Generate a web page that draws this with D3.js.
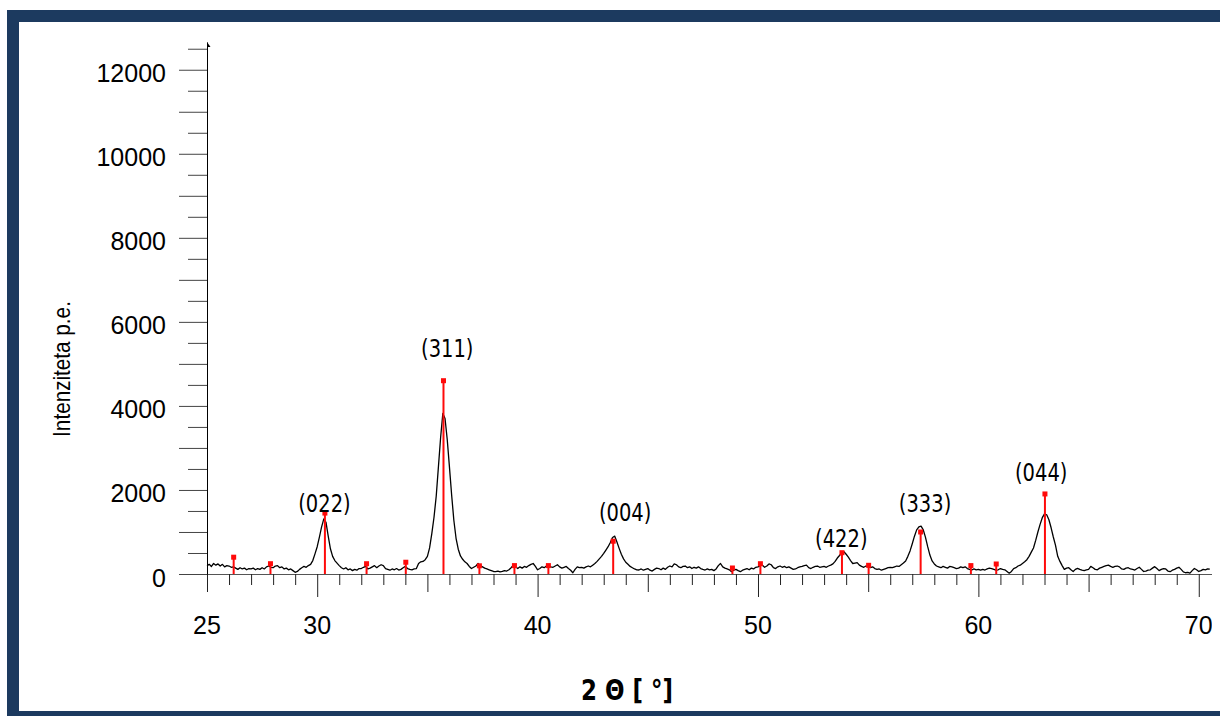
<!DOCTYPE html>
<html>
<head>
<meta charset="utf-8">
<script src="https://cdn.jsdelivr.net/npm/d3@7"></script>
<style>
  html, body { margin: 0; padding: 0; background: #fff; }
  svg { display: block; }
</style>
</head>
<body>
<svg id="chart" width="1220" height="716"></svg>
<script>
const scanStart = 25.0;
const scanStep = 0.1;
const counts = [
  200, 230, 180, 250, 210, 240, 190, 230, 170, 200,   // 25
  190, 160, 170, 140, 110, 150, 120, 140, 100, 130,   // 26
  120, 140, 100, 130, 110, 150, 120, 170, 190, 160,   // 27
  150, 190, 200, 150, 170, 120, 140, 100, 120, 80,    // 28
  40, 60, 110, 150, 180, 160, 200, 230, 320, 480,     // 29
  650, 880, 1120, 1310, 1230, 900, 600, 420, 320, 260, // 30
  200, 150, 120, 150, 100, 120, 80, 110, 90, 130,     // 31
  130, 160, 180, 120, 140, 170, 200, 150, 190, 220,   // 32
  200, 130, 110, 90, 120, 100, 130, 95, 110, 150,     // 33
  180, 130, 110, 100, 120, 130, 250, 290, 300, 340,   // 34
  420, 620, 960, 1350, 1850, 2550, 3250, 3820, 3700, 3200, // 35
  2550, 1880, 1280, 850, 590, 430, 350, 290, 250, 180, // 36
  130, 160, 190, 250, 200, 170, 140, 120, 100, 80,    // 37
  60, 55, 70, 50, 60, 80, 70, 100, 150, 210,          // 38
  170, 130, 170, 140, 180, 160, 200, 230, 250, 180,   // 39
  100, 130, 170, 150, 190, 200, 170, 160, 190, 220,   // 40
  170, 140, 160, 180, 130, 90, 30, 110, 170, 150,     // 41
  160, 140, 170, 190, 170, 210, 250, 300, 360, 420,   // 42
  490, 570, 650, 750, 870, 900, 760, 610, 470, 360,   // 43
  280, 230, 180, 150, 120, 100, 95, 120, 90, 110,     // 44
  130, 90, 70, 110, 140, 130, 100, 140, 110, 160,     // 45
  190, 170, 240, 220, 170, 150, 180, 190, 150, 170,   // 46
  130, 160, 140, 170, 130, 110, 95, 120, 100, 110,    // 47
  80, 120, 200, 250, 170, 140, 120, 100, 55, 90,      // 48
  110, 80, 55, 90, 110, 130, 100, 140, 120, 160,      // 49
  170, 200, 210, 160, 190, 240, 220, 150, 130, 170,   // 50
  190, 160, 180, 150, 170, 140, 110, 120, 150, 170,   // 51
  180, 200, 210, 150, 130, 160, 180, 190, 160, 170,   // 52
  180, 160, 190, 210, 240, 300, 380, 440, 510, 530,   // 53
  470, 400, 320, 250, 260, 270, 210, 180, 160, 190,   // 54
  170, 150, 170, 130, 110, 120, 90, 110, 130, 150,    // 55
  160, 150, 170, 190, 180, 220, 260, 310, 420, 550,   // 56
  720, 900, 1050, 1120, 1140, 1050, 870, 650, 450, 310, // 57
  240, 190, 170, 150, 180, 160, 140, 180, 170, 150,   // 58
  130, 140, 170, 150, 170, 130, 110, 95, 120, 100,    // 59
  110, 90, 110, 95, 120, 140, 130, 110, 90, 100,      // 60
  130, 110, 100, 60, 20, 60, 130, 150, 190, 210,      // 61
  250, 290, 340, 420, 520, 620, 800, 1000, 1180, 1340, // 62
  1430, 1410, 1290, 1100, 880, 680, 420, 300, 200, 110, // 63
  140, 150, 100, 60, 110, 135, 110, 90, 80, 100,      // 64
  110, 180, 150, 110, 100, 140, 160, 180, 200, 210,   // 65
  180, 160, 180, 190, 170, 120, 110, 140, 150, 120,   // 66
  110, 95, 130, 160, 110, 60, 70, 90, 100, 140,       // 67
  175, 130, 80, 110, 130, 120, 70, 55, 90, 110,       // 68
  140, 160, 110, 50, 30, 40, 20, 80, 130, 100,        // 69
  60, 80, 110, 100, 120, 115                          // 70
];

// reference pattern (red sticks)
const refAngles = [26.21, 27.88, 30.35, 32.24, 34.02, 35.73, 37.36, 38.95, 40.49,
                   43.43, 48.84, 50.11, 53.81, 55.02, 57.38, 59.66, 60.81, 63.02];
const refInts   = [400, 245, 1450, 245, 280, 4600, 195, 200, 200,
                   780, 143, 245, 507, 207, 1000, 200, 238, 1905];

// Miller index labels and where they sit (deg, counts)
const hklText  = ['(022)', '(311)', '(004)', '(422)', '(333)', '(044)'];
const hklAngle = [30.33, 35.90, 43.97, 53.78, 57.58, 62.85];
const hklCount = [1480, 5170, 1260, 640, 1480, 2210];

const xLabelTicks = [25, 30, 40, 50, 60, 70];
const yLabelTicks = [0, 2000, 4000, 6000, 8000, 10000, 12000];

const W = 1220, H = 716;
const navy = '#1c3a5f';
const red = '#ff0a0a';

const svg = d3.select('#chart');

// frame
svg.append('rect').attr('width', W).attr('height', H).attr('fill', '#fff');
svg.append('rect').attr('x', 7).attr('y', 10).attr('width', W - 7).attr('height', H - 10).attr('fill', navy);
svg.append('rect').attr('x', 19).attr('y', 22).attr('width', W - 19).attr('height', 711 - 22).attr('fill', '#fff');

svg.append('clipPath').attr('id', 'clip')
  .append('rect').attr('x', 19).attr('y', 22).attr('width', 1212 - 19).attr('height', 711 - 22);

const g = svg.append('g').attr('clip-path', 'url(#clip)');

const x = d3.scaleLinear().domain([25, 70.6]).range([207, 1212]);
const y = d3.scaleLinear().domain([0, 12660]).range([574, 42]);

const tickFont = '"Liberation Sans", Arial, sans-serif';
const condFont = '"DejaVu Sans", sans-serif';

// x axis
const xAxis = d3.axisBottom(x)
  .tickValues(d3.range(25, 71, 1))
  .tickSizeOuter(0)
  .tickFormat('');
const gx = g.append('g').attr('transform', `translate(0,${y(0)})`).call(xAxis);
gx.select('.domain').attr('stroke', '#555');
gx.selectAll('.tick line')
  .attr('stroke', '#222')
  .attr('y2', d => d % 10 === 0 ? 23 : d % 5 === 0 ? 18 : 11);

g.append('g').selectAll('text').data(xLabelTicks).join('text')
  .attr('x', d => x(d))
  .attr('y', 634)
  .attr('text-anchor', 'middle')
  .style('font-family', tickFont)
  .style('font-size', '25px')
  .text(d => d);

// y axis
const yAxis = d3.axisLeft(y)
  .tickValues(d3.range(0, 12501, 500))
  .tickSizeOuter(0)
  .tickFormat('');
const gy = g.append('g').attr('transform', `translate(${x(25)},0)`).call(yAxis);
gy.select('.domain').attr('stroke', '#000');
gy.selectAll('.tick line')
  .attr('stroke', '#444')
  .attr('x2', d => d % 1000 === 0 ? -28 : -19);

// little arrow on top of the y axis
g.append('path')
  .attr('d', `M${x(25)},${y(12660)}L${x(25) + 3.5},${y(12660) + 5}L${x(25)},${y(12660) + 5}Z`)
  .attr('fill', '#000');

g.append('g').selectAll('text').data(yLabelTicks).join('text')
  .attr('x', 166)
  .attr('y', d => y(d) + 12.5)
  .attr('text-anchor', 'end')
  .style('font-family', tickFont)
  .style('font-size', '25px')
  .text(d => d);

// axis titles
g.append('text')
  .attr('transform', 'translate(70,369) rotate(-90) scale(0.9,1)')
  .attr('text-anchor', 'middle')
  .style('font-family', tickFont)
  .style('font-size', '23px')
  .text('Intenziteta p.e.');

g.append('text')
  .attr('transform', 'translate(627,700) scale(0.82,1)')
  .attr('text-anchor', 'middle')
  .style('font-family', condFont)
  .style('font-weight', 'bold')
  .style('font-size', '28px')
  .text('2 Θ [ °]');

// measured curve
const scan = counts.map((c, i) => [scanStart + i * scanStep, c]);
const line = d3.line().x(d => x(d[0])).y(d => y(d[1]));
g.append('path')
  .datum(scan)
  .attr('d', line)
  .attr('fill', 'none')
  .attr('stroke', '#000')
  .attr('stroke-width', 1.3)
  .attr('stroke-linejoin', 'round');

// reference sticks
const refs = refAngles.map((a, i) => ({ a, v: refInts[i] }));
g.append('g').selectAll('line').data(refs).join('line')
  .attr('x1', d => x(d.a)).attr('x2', d => x(d.a))
  .attr('y1', y(0)).attr('y2', d => y(d.v))
  .attr('stroke', red)
  .attr('stroke-width', 2);
g.append('g').selectAll('rect').data(refs).join('rect')
  .attr('x', d => x(d.a) - 2.5)
  .attr('y', d => y(d.v) - 2.5)
  .attr('width', 5)
  .attr('height', 5)
  .attr('fill', red);

// hkl labels, squeezed sideways like the original condensed face
g.append('g').selectAll('text').data(hklText).join('text')
  .attr('transform', (d, i) => `translate(${x(hklAngle[i])},${y(hklCount[i])}) scale(0.78,1)`)
  .attr('text-anchor', 'middle')
  .style('font-family', condFont)
  .style('font-size', '25px')
  .text(d => d);
</script>
</body>
</html>
